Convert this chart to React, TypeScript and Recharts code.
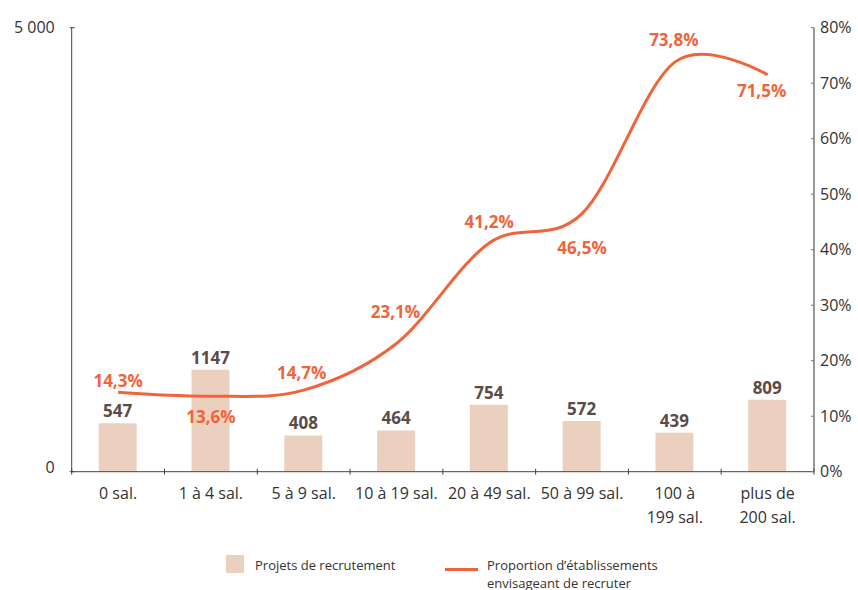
import React from "react";
import { ComposedChart, Bar, Line, XAxis, YAxis, LabelList } from "recharts";

const categories = ["0 sal.", "1 à 4 sal.", "5 à 9 sal.", "10 à 19 sal.", "20 à 49 sal.", "50 à 99 sal.", "100 à\n199 sal.", "plus de\n200 sal."];
const projets = [547, 1147, 408, 464, 754, 572, 439, 809];
const proportion = [14.3, 13.6, 14.7, 23.1, 41.2, 46.5, 73.8, 71.5];
const leftTicks = [0, 5000];
const rightTicks = [0, 10, 20, 30, 40, 50, 60, 70, 80];

// label placement (styling, not data)
const lineLabelDy = [-11, 21, -17, -31, -21, 34, -22, 16];
const lineLabelDx = [0, 0, -2, -1, 0, 0, -1, -6];

const data = categories.map((c, i) => ({ cat: c, projets: projets[i], proportion: proportion[i] }));

const W = 858;
const H = 590;
const M = { top: 27.7, right: 0, left: 0, bottom: 0 };
const LEFT_W = 71.7;
const RIGHT_W = 44;
const PLOT_W = W - LEFT_W - RIGHT_W;
const BW = PLOT_W / categories.length;
const FONT = "'Open Sans', 'Noto Sans', sans-serif";
const BAR_COLOR = "#ECD0BF";
const LINE_COLOR = "#F0643C";
const DARK = "#5B4C45";
const AXIS = "#444";

// Cardinal (Catmull-Rom like) curve factory, d3-shape compatible
function cardPoint(that: any, x: number, y: number) {
  that._context.bezierCurveTo(
    that._x1 + that._k * (that._x2 - that._x0),
    that._y1 + that._k * (that._y2 - that._y0),
    that._x2 + that._k * (that._x1 - x),
    that._y2 + that._k * (that._y1 - y),
    that._x2,
    that._y2
  );
}
class Cardinal {
  _context: any; _k: number; _line: number = NaN; _point = 0;
  _x0 = NaN; _x1 = NaN; _x2 = NaN; _y0 = NaN; _y1 = NaN; _y2 = NaN;
  constructor(context: any, tension: number) {
    this._context = context;
    this._k = (1 - tension) / 6;
  }
  areaStart() { this._line = 0; }
  areaEnd() { this._line = NaN; }
  lineStart() {
    this._x0 = this._x1 = this._x2 = this._y0 = this._y1 = this._y2 = NaN;
    this._point = 0;
  }
  lineEnd() {
    switch (this._point) {
      case 2: this._context.lineTo(this._x2, this._y2); break;
      case 3: cardPoint(this, this._x1, this._y1); break;
    }
    if (this._line || (this._line !== 0 && this._point === 1)) this._context.closePath();
    this._line = 1 - this._line;
  }
  point(x: number, y: number) {
    x = +x; y = +y;
    switch (this._point) {
      case 0: this._point = 1; this._line ? this._context.lineTo(x, y) : this._context.moveTo(x, y); break;
      case 1: this._point = 2; this._x1 = x; this._y1 = y; break;
      case 2: this._point = 3; cardPoint(this, x, y); break;
      default: cardPoint(this, x, y); break;
    }
    this._x0 = this._x1; this._x1 = this._x2; this._x2 = x;
    this._y0 = this._y1; this._y1 = this._y2; this._y2 = y;
  }
}
const cardinalCurve: any = (context: any) => new Cardinal(context, 0);

const fmtThousands = (v: number) => String(v).replace(/\B(?=(\d{3})+(?!\d))/g, " ");

const XTick = (props: any) => {
  const { x, y, payload, index } = props;
  const lines = String(payload.value).split("\n");
  return (
    <g>
      <line x1={x - BW / 2} x2={x - BW / 2} y1={y - 3} y2={y + 3} stroke={AXIS} strokeWidth={1} />
      {index === categories.length - 1 && (
        <line x1={x + BW / 2} x2={x + BW / 2} y1={y - 3} y2={y + 3} stroke={AXIS} strokeWidth={1} />
      )}
      <text x={x} y={y + 27} textAnchor="middle" fontFamily={FONT} fontSize={16} fill="#333">
        {lines.map((l, k) => (
          <tspan key={k} x={x} dy={k === 0 ? 0 : 24}>
            {l}
          </tspan>
        ))}
      </text>
    </g>
  );
};

const LeftTick = (props: any) => {
  const { x, y, payload } = props;
  return (
    <g>
      <line x1={x - 2} x2={x + 3} y1={y} y2={y} stroke={AXIS} strokeWidth={1} />
      <text x={x - 17} y={payload.value === 0 ? y - 4 : y} dy="0.35em" textAnchor="end" fontFamily={FONT} fontSize={16} fill="#333">
        {fmtThousands(payload.value)}
      </text>
    </g>
  );
};

const RightTick = (props: any) => {
  const { x, y, payload } = props;
  return (
    <g>
      <line x1={x - 3} x2={x} y1={y} y2={y} stroke="#777" strokeWidth={1} />
      <text x={x + 6} y={y} dy="0.35em" textAnchor="start" fontFamily={FONT} fontSize={16} fill="#333">
        {payload.value}%
      </text>
    </g>
  );
};

const LineLabel = (props: any) => {
  const { x, y, value, index } = props;
  return (
    <text
      x={x + lineLabelDx[index]}
      y={y + lineLabelDy[index]}
      dy="0.35em"
      textAnchor="middle"
      fontFamily={FONT}
      fontWeight={700}
      fontSize={17}
      fill={LINE_COLOR}
    >
      {String(value).replace(".", ",")}%
    </text>
  );
};

const BarLabel = (props: any) => {
  const { x, y, width, value } = props;
  return (
    <text x={x + width / 2} y={y - 12} dy="0.35em" textAnchor="middle" fontFamily={FONT} fontWeight={700} fontSize={17} fill={DARK}>
      {value}
    </text>
  );
};

export default function App() {
  return (
    <div style={{ position: "absolute", left: 0, top: 0, width: W, height: H, background: "#fff" }}>
      <ComposedChart width={W} height={H} data={data} margin={M}>
        <XAxis
          dataKey="cat"
          interval={0}
          height={H - 471.7 - M.bottom}
          tick={<XTick />}
          tickLine={false}
          tickSize={0}
          tickMargin={0}
          axisLine={{ stroke: AXIS, strokeWidth: 1 }}
        />
        <YAxis
          yAxisId="left"
          orientation="left"
          domain={[0, 5000]}
          ticks={leftTicks}
          width={LEFT_W}
          tick={<LeftTick />}
          tickLine={false}
          tickSize={0}
          tickMargin={0}
          axisLine={{ stroke: AXIS, strokeWidth: 1 }}
        />
        <YAxis
          yAxisId="right"
          orientation="right"
          domain={[0, 80]}
          ticks={rightTicks}
          width={RIGHT_W}
          tick={<RightTick />}
          tickLine={false}
          tickSize={0}
          tickMargin={0}
          axisLine={{ stroke: "#777", strokeWidth: 1.5 }}
        />
        <Bar yAxisId="left" dataKey="projets" fill={BAR_COLOR} barSize={38} isAnimationActive={false}>
          <LabelList dataKey="projets" content={<BarLabel />} />
        </Bar>
        <Line
          yAxisId="right"
          type={cardinalCurve}
          dataKey="proportion"
          stroke={LINE_COLOR}
          strokeWidth={3}
          dot={false}
          activeDot={false}
          isAnimationActive={false}
        >
          <LabelList dataKey="proportion" content={<LineLabel />} />
        </Line>
      </ComposedChart>
      <div style={{ position: "absolute", left: 226, top: 555, width: 18, height: 18, background: BAR_COLOR }} />
      <div style={{ position: "absolute", left: 255, top: 556, fontFamily: FONT, fontSize: 13, color: "#333", lineHeight: "18px" }}>
        Projets de recrutement
      </div>
      <div style={{ position: "absolute", left: 445, top: 567.5, width: 33, height: 3, background: LINE_COLOR }} />
      <div style={{ position: "absolute", left: 487, top: 556, fontFamily: FONT, fontSize: 13, color: "#333", lineHeight: "18px" }}>
        Proportion d’établissements
        <br />
        envisageant de recruter
      </div>
    </div>
  );
}
